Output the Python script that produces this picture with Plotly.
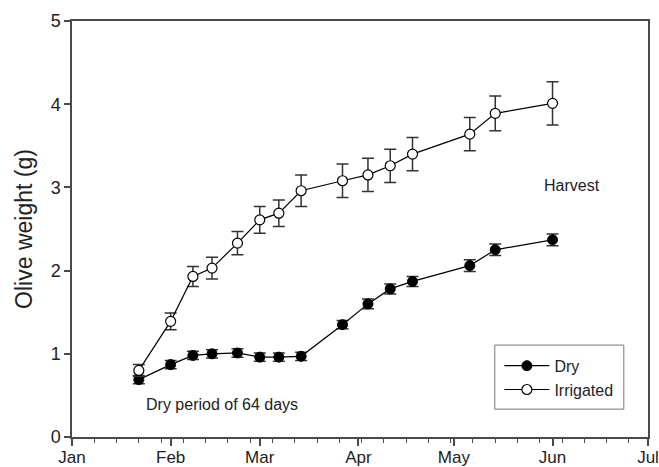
import plotly.graph_objects as go

# Sampling dates (same for both treatments)
dates = ["2005-01-22", "2005-02-01", "2005-02-08", "2005-02-14", "2005-02-22",
         "2005-03-01", "2005-03-07", "2005-03-14", "2005-03-27", "2005-04-04",
         "2005-04-11", "2005-04-18", "2005-05-06", "2005-05-14", "2005-06-01"]

# Mean olive fresh weight (g) and standard error
dry_weight = [0.69, 0.87, 0.98, 1.00, 1.01, 0.96, 0.96, 0.97, 1.35, 1.60,
              1.78, 1.87, 2.06, 2.25, 2.37]
dry_se = [0.05, 0.05, 0.05, 0.05, 0.05, 0.05, 0.05, 0.05, 0.05, 0.06,
          0.06, 0.06, 0.07, 0.07, 0.07]

irrigated_weight = [0.80, 1.39, 1.93, 2.03, 2.33, 2.61, 2.69, 2.96, 3.08, 3.15,
                    3.26, 3.40, 3.64, 3.89, 4.01]
irrigated_se = [0.07, 0.10, 0.12, 0.13, 0.14, 0.16, 0.16, 0.19, 0.20, 0.20,
                0.20, 0.20, 0.20, 0.21, 0.26]

FONT = "Liberation Sans, Arial, sans-serif"
AXIS_COLOR = "#4a4a4a"
TEXT_COLOR = "#222222"

fig = go.Figure()

fig.add_trace(go.Scatter(
    x=dates, y=dry_weight, name="Dry", mode="lines+markers",
    line=dict(color="black", width=1.2),
    marker=dict(symbol="circle", size=10, color="black",
                line=dict(color="black", width=1)),
    error_y=dict(type="data", array=dry_se, visible=True,
                 color="#333333", thickness=1.5, width=6),
))

fig.add_trace(go.Scatter(
    x=dates, y=irrigated_weight, name="Irrigated", mode="lines+markers",
    line=dict(color="black", width=1.2),
    marker=dict(symbol="circle", size=10, color="white",
                line=dict(color="black", width=1.2)),
    error_y=dict(type="data", array=irrigated_se, visible=True,
                 color="#333333", thickness=1.5, width=6),
))

fig.add_annotation(x="2005-06-07", y=3.02, text="Harvest", showarrow=False,
                   font=dict(family=FONT, size=16, color=TEXT_COLOR))
fig.add_annotation(x="2005-02-17", y=0.39, text="Dry period of 64 days",
                   showarrow=False,
                   font=dict(family=FONT, size=16, color=TEXT_COLOR))

# Frame around the legend entries
fig.add_shape(type="rect", xref="paper", yref="paper",
              x0=0.734, x1=0.958, y0=0.067, y1=0.221,
              line=dict(color="#777777", width=1), fillcolor="rgba(0,0,0,0)",
              layer="above")

fig.update_xaxes(
    type="date", range=["2005-01-01", "2005-07-01"],
    dtick="M1", tick0="2005-01-01", tickformat="%b",
    ticks="outside", ticklen=7, tickwidth=1.5, tickcolor=AXIS_COLOR,
    ticklabelstandoff=-3,
    minor=dict(dtick=7 * 86400000, tick0="2005-01-01", ticks="outside",
               ticklen=4, tickwidth=1.2, tickcolor=AXIS_COLOR, showgrid=False),
    showline=True, linecolor=AXIS_COLOR, linewidth=1.5, mirror=True,
    showgrid=False, zeroline=False,
    tickfont=dict(family=FONT, size=17, color=TEXT_COLOR),
)

fig.update_yaxes(
    range=[0, 5], dtick=1, tick0=0,
    ticks="outside", ticklen=6, tickwidth=1.5, tickcolor=AXIS_COLOR,
    showline=True, linecolor=AXIS_COLOR, linewidth=1.5, mirror=True,
    showgrid=False, zeroline=False,
    tickfont=dict(family=FONT, size=18, color=TEXT_COLOR),
    title=dict(text="Olive weight (g)", standoff=12,
               font=dict(family=FONT, size=23, color=TEXT_COLOR)),
)

fig.update_layout(
    width=659, height=467,
    margin=dict(l=72, r=11, t=21, b=30, autoexpand=False),
    plot_bgcolor="white", paper_bgcolor="white",
    showlegend=True,
    legend=dict(
        x=0.742, y=0.212, xanchor="left", yanchor="top",
        borderwidth=0, bgcolor="rgba(0,0,0,0)",
        font=dict(family=FONT, size=16, color=TEXT_COLOR),
        itemwidth=45, tracegroupgap=0,
    ),
    hovermode=False,
)

fig.write_html("out.html")
